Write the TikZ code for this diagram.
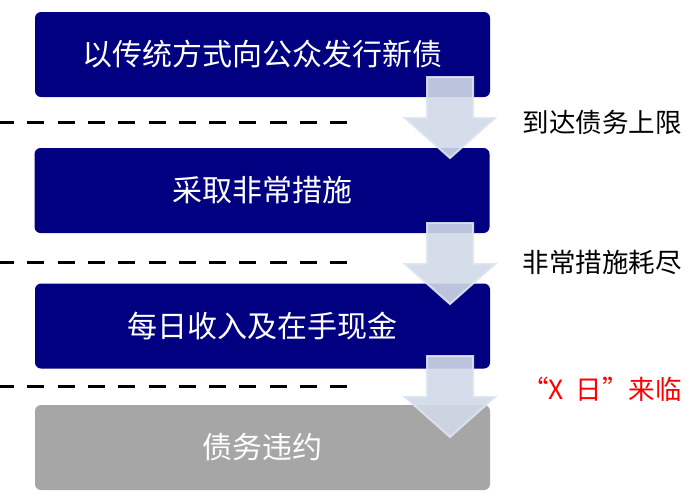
\documentclass[tikz,border=0pt]{standalone}
\usepackage{fontspec}
\newfontfamily\cjk{Noto Sans CJK SC}
\usetikzlibrary{calc}
\definecolor{navy}{RGB}{0,0,128}
\definecolor{boxgray}{RGB}{166,166,166}
\definecolor{arrowfill}{RGB}{209,217,232}
\definecolor{arrowedge}{RGB}{222,228,240}
\tikzset{
  stagebox/.style={draw=none, fill=navy, rounded corners=6pt, minimum width=455pt, minimum height=85pt, inner sep=0pt, text=white, font=\cjk\fontsize{30}{32}\selectfont},
  graybox/.style={stagebox, fill=boxgray},
  sidelabel/.style={anchor=east, inner sep=0pt, font=\cjk\fontsize{26.5}{28}\selectfont},
  dashline/.style={line width=3pt, dash pattern=on 17pt off 13.3pt, dash phase=3pt},
  blockarrow/.style={fill=arrowfill, fill opacity=0.9, draw=arrowedge, draw opacity=0.9, line width=2pt, line join=miter}
}
\newcommand{\downblock}[1]{%
  \draw[blockarrow] ($(#1)+(-23,0)$) -- ++(46,0) -- ++(0,41) -- ++(22,0) -- ++(-45,40) -- ++(-45,-40) -- ++(22,0) -- cycle;}
\begin{document}
\begin{tikzpicture}[x=1pt,y=-1pt]
\useasboundingbox (0,0) rectangle (698,499);
% boxes
\node[stagebox] (b1) at (262.5,54.5) {以传统方式向公众发行新债};
\node[stagebox] (b2) at (262,190.5) {采取非常措施};
\node[stagebox] (b3) at (262.5,326) {每日收入及在手现金};
\node[graybox] (b4) at (262.5,447.5) {债务违约};
% dashed separators
\coordinate (d1s) at (0,122); \coordinate (d1e) at (348,122);
\coordinate (d2s) at (0,262); \coordinate (d2e) at (348,262);
\coordinate (d3s) at (0,386); \coordinate (d3e) at (348,386);
\draw[dashline] (d1s) -- (d1e);
\draw[dashline] (d2s) -- (d2e);
\draw[dashline] (d3s) -- (d3e);
% block arrows
\coordinate (a1) at (450,77);
\coordinate (a2) at (450,223);
\coordinate (a3) at (450,356);
\downblock{a1}
\downblock{a2}
\downblock{a3}
% side labels
\node[sidelabel] (l1) at (682,122) {到达债务上限};
\node[sidelabel] (l2) at (682,262) {非常措施耗尽};
\node[sidelabel, text=red] (l3) at (682,389) {“X\hspace{0.45em}日”来临};
\end{tikzpicture}
\end{document}
